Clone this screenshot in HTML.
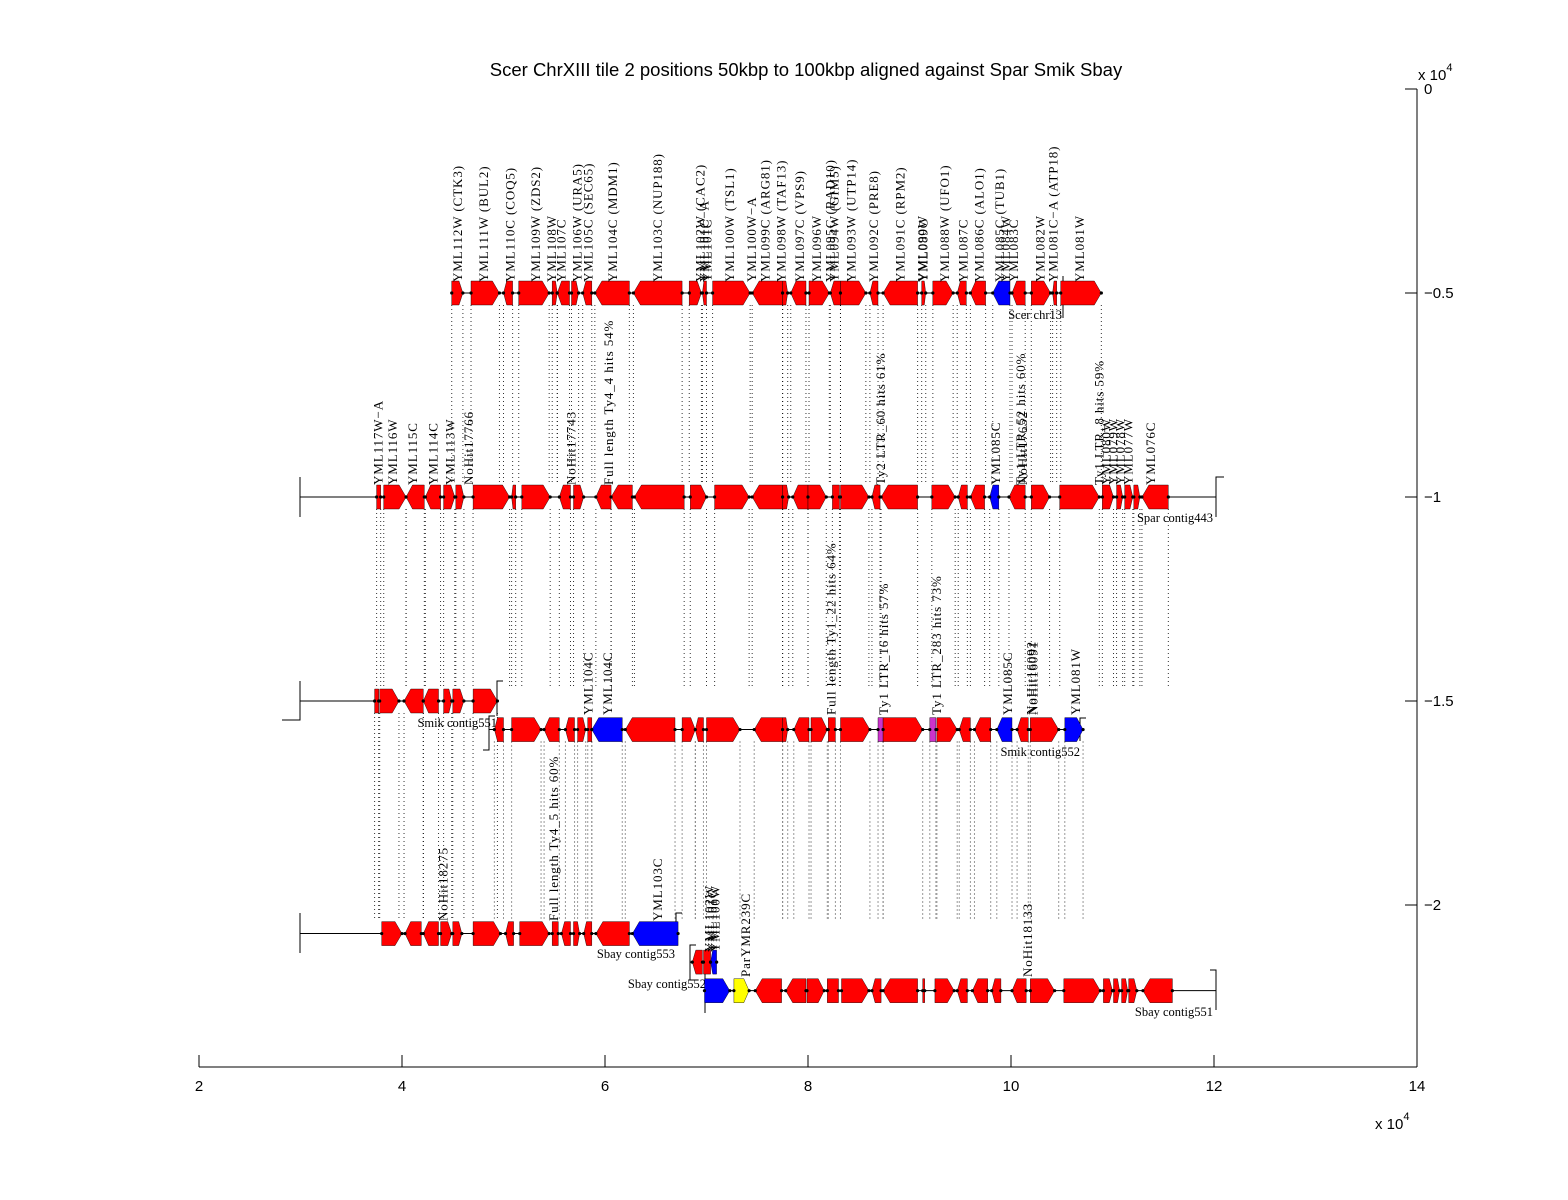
<!DOCTYPE html>
<html><head><meta charset="utf-8"><title>Scer ChrXIII tile 2 alignment</title>
<style>
html,body{margin:0;padding:0;background:#fff;}
svg{display:block;}
</style></head>
<body>
<svg id="chart" width="1568" height="1200" viewBox="0 0 1568 1200" xmlns="http://www.w3.org/2000/svg">
<rect x="0" y="0" width="1568" height="1200" fill="#fff"/>
<text x="806" y="76" font-family="Liberation Sans, sans-serif" font-size="18.5" text-anchor="middle">Scer ChrXIII tile 2 positions 50kbp to 100kbp aligned against Spar Smik Sbay</text>
<g id="dots"></g>
<g id="tracks"></g>
<g id="genes"></g>
<g id="labels"></g>
<g id="axes"></g>
</svg>
<script>
// Data in units of 10^4 bp (x) and 10^4 (y)
const xTicks = [2,4,6,8,10,12,14];
const yTicks = [0,-0.5,-1,-1.5,-2];
const yTickLabels = ["0","\u22120.5","\u22121","\u22121.5","\u22122"];
const rowY = [-0.5,-1.0,-1.5,-1.57,-2.07,-2.14,-2.21];
const scerStart = [4.49,4.68,5.00,5.15,5.48,5.53,5.67,5.78,5.90,6.28,6.83,6.96,7.06,7.45,7.75,7.83,8.01,8.22,8.32,8.61,8.74,9.12,9.23,9.47,9.60,9.82,10.01,10.20,10.41,10.49];
const scerEnd   = [4.60,4.96,5.09,5.45,5.53,5.65,5.74,5.87,6.24,6.76,6.95,7.00,7.43,7.75,7.80,7.98,8.21,8.32,8.57,8.69,9.08,9.16,9.43,9.56,9.75,9.99,10.14,10.39,10.45,10.89];
const scerDir   = [1,1,-1,1,1,-1,1,-1,-1,-1,1,-1,1,-1,1,-1,1,-1,1,-1,-1,1,1,-1,-1,-1,-1,1,-1,1];
const scerColor = "rrrrrrrrrrrrrrrrrrrrrrrrrbrrrr";
const sparStart = [3.75,3.82,4.04,4.23,4.41,4.53,4.70,5.08,5.18,5.55,5.69,5.91,6.06,6.29,6.84,7.08,7.45,7.75,7.85,8.00,8.24,8.32,8.63,8.72,9.22,9.48,9.60,9.79,9.98,10.20,10.48,10.90,11.04,11.12,11.21,11.29];
const sparEnd   = [3.79,4.04,4.22,4.38,4.52,4.61,5.06,5.12,5.46,5.66,5.79,6.06,6.27,6.78,7.00,7.42,7.75,7.81,8.00,8.18,8.31,8.60,8.71,9.08,9.45,9.57,9.74,9.88,10.14,10.38,10.87,11.01,11.10,11.20,11.27,11.55];
const sparDir   = [0,1,-1,-1,1,1,1,-1,1,-1,1,-1,-1,-1,1,1,-1,1,-1,1,0,1,-1,-1,1,-1,-1,-1,-1,1,1,1,1,1,1,-1];
const sparColor = "rrrrrrrrrrrrrrrrrrrrrrrrrrrbrrrrrrrr";
const smik1Start = [3.73,3.78,4.02,4.21,4.41,4.50,4.70];
const smik1End   = [3.77,3.97,4.21,4.36,4.49,4.61,4.94];
const smik1Dir   = [0,1,-1,-1,1,1,1];
const smik1Color = "rrrrrrr";
const smik2Start = [4.91,5.08,5.40,5.61,5.73,5.83,5.87,6.20,6.76,6.89,7.00,7.47,7.75,7.86,8.03,8.20,8.32,8.69,8.74,9.20,9.27,9.49,9.64,9.86,10.06,10.19,10.53];
const smik2End   = [5.00,5.37,5.55,5.70,5.81,5.87,6.17,6.69,6.89,6.97,7.33,7.75,7.80,8.01,8.19,8.27,8.61,8.74,9.13,9.26,9.47,9.60,9.80,10.01,10.17,10.47,10.71];
const smik2Dir   = [-1,1,-1,-1,1,0,-1,-1,1,-1,1,-1,1,-1,1,0,1,0,1,0,1,-1,-1,-1,-1,1,1];
const smik2Color = "rrrrrrbrrrrrrrrrrmrmrrrbrrb";
const sbay1Start = [3.80,4.03,4.21,4.38,4.50,4.70,5.02,5.16,5.48,5.57,5.69,5.79,5.91,6.27];
const sbay1End   = [4.00,4.19,4.36,4.49,4.59,4.97,5.10,5.45,5.54,5.66,5.75,5.87,6.24,6.72];
const sbay1Dir   = [1,-1,-1,1,1,1,-1,1,0,-1,1,-1,-1,-1];
const sbay1Color = "rrrrrrrrrrrrrb";
const sbay2Start = [6.86,6.97,7.04];
const sbay2End   = [6.96,7.04,7.10];
const sbay2Dir   = [-1,0,-1];
const sbay2Color = "rrb";
const sbay3Start = [6.98,7.27,7.48,7.78,7.99,8.19,8.33,8.63,8.74,9.13,9.25,9.47,9.62,9.81,10.01,10.19,10.52,10.91,11.01,11.09,11.16,11.30];
const sbay3End   = [7.23,7.42,7.74,7.98,8.16,8.30,8.60,8.72,9.08,9.15,9.44,9.57,9.77,9.90,10.15,10.43,10.88,11.00,11.07,11.15,11.24,11.59];
const sbay3Dir   = [1,1,-1,-1,1,0,1,-1,-1,0,1,-1,-1,-1,-1,1,1,1,1,1,1,-1];
const sbay3Color = "byrrrrrrrrrrrrrrrrrrrr";
const scerLabelText = ["YML112W (CTK3)","YML111W (BUL2)","YML110C (COQ5)","YML109W (ZDS2)","YML108W","YML107C","YML106W (URA5)","YML105C (SEC65)","YML104C (MDM1)","YML103C (NUP188)","YML102W (CAC2)","YML101C\u2212A","YML101C","YML100W (TSL1)","YML100W\u2212A","YML099C (ARG81)","YML098W (TAF13)","YML097C (VPS9)","YML096W","YML095C (RAD10)","YML094W (GIM5)","YML093W (UTP14)","YML092C (PRE8)","YML091C (RPM2)","YML090W","YML089C","YML088W (UFO1)","YML087C","YML086C (ALO1)","YML085C (TUB1)","YML084W","YML083C","YML082W","YML081C\u2212A (ATP18)","YML081W"];
const scerLabelX = [4.54,4.80,5.06,5.31,5.47,5.56,5.72,5.83,6.07,6.51,6.93,6.97,7.00,7.22,7.44,7.57,7.73,7.91,8.08,8.21,8.25,8.42,8.64,8.90,9.12,9.13,9.34,9.52,9.68,9.88,9.94,10.02,10.28,10.41,10.67];
const sparLabelText = ["YML117W\u2212A","YML116W","YML115C","YML114C","YML113W","NoHit17766","NoHit17743","Full length Ty4_4 hits 54%","Ty2 LTR_60 hits 61%","YML085C","Ty1 LTR_52 hits 60%","NoHit17652","Ty1 LTR_8 hits 59%","YML080W","YML079W","YML078W","YML077W","YML076C"];
const sparLabelX = [3.76,3.90,4.10,4.30,4.47,4.65,5.66,6.03,8.71,9.84,10.09,10.11,10.86,10.93,11.00,11.07,11.15,11.37];
const smikLabelText = ["YML104C","YML104C","Full length Ty1_22 hits 64%","Ty1 LTR_16 hits 57%","Ty1 LTR_283 hits 73%","YML085C","NoHit16092","NoHit16091","YML081W"];
const smikLabelX = [5.83,6.02,8.22,8.74,9.26,9.96,10.19,10.21,10.63];
const sbay1LabelText = ["NoHit18275","Full length Ty4_5 hits 60%","YML103C"];
const sbay1LabelX = [4.40,5.49,6.51];
const sbay2LabelText = ["YML102W","YML101C","YML100W"];
const sbay2LabelX = [7.02,7.05,7.08];
const sbay3LabelText = ["ParYMR239C","NoHit18133"];
const sbay3LabelX = [7.38,10.16];

const NS = "http://www.w3.org/2000/svg";
const X = v => 199 + (v - 2) * 101.5;
const Y = v => 89 - v * 408;
const COL = {r:"#ff0000", b:"#0000ff", m:"#cc33cc", y:"#ffff00"};
function mk(tag, attrs, parent){
  const e = document.createElementNS(NS, tag);
  for (const k in attrs) e.setAttribute(k, attrs[k]);
  parent.appendChild(e);
  return e;
}
const gDots = document.getElementById('dots');
const gTracks = document.getElementById('tracks');
const gGenes = document.getElementById('genes');
const gLabels = document.getElementById('labels');
const gAxes = document.getElementById('axes');

const trackStart = [4.49,3.0,3.0,4.86,3.0,6.84,6.98];
const trackEnd = [10.89,12.02,4.94,10.68,6.72,7.10,12.02];
for (let i = 0; i < rowY.length; i++) {
  const l = mk('line', {x1:X(trackStart[i]), x2:X(trackEnd[i]), y1:Y(rowY[i]), y2:Y(rowY[i]), stroke:'#000', 'stroke-width':1}, gTracks);
  
  
}
function path(d, name){
  const p = mk('path', {d:d, stroke:'#000', fill:'none', 'stroke-width':1}, gTracks);
  
  
}
path('M1063,276 V318', 'scer-end-bracket');
path('M300,477 V517', 'spar-start-bracket');
path('M1224,477 H1216 V517', 'spar-end-bracket');
path('M300,681 V720 H282', 'smik551-start-bracket');
path('M503,681 H497 V716', 'smik551-end-bracket');
path('M495,716 H489 V750 H483', 'smik552-start-bracket');
path('M1086,718 H1080 V741', 'smik552-end-bracket');
path('M300,913 V953', 'sbay553-start-bracket');
path('M682,913 H676 V933', 'sbay553-end-bracket');
path('M696,945 H690 V980 H696', 'sbay552-start-bracket');
path('M705,963 V1013', 'sbay551-start-bracket');
path('M1210,970 H1216 V1010', 'sbay551-end-bracket');

function contigLabel(x, y, txt, name){
  const t = mk('text', {x:x, y:y, 'font-family':'Liberation Serif, serif', 'font-size':12.5, 'text-anchor':'end'}, gTracks);
  t.textContent = txt;
  
  
}
contigLabel(1062, 319, 'Scer chr13', 'scer-contig-label');
contigLabel(1213, 522, 'Spar contig443', 'spar-contig-label');
contigLabel(497, 727, 'Smik contig551', 'smik551-contig-label');
contigLabel(1080, 756, 'Smik contig552', 'smik552-contig-label');
contigLabel(675, 958, 'Sbay contig553', 'sbay553-contig-label');
contigLabel(706, 988, 'Sbay contig552', 'sbay552-contig-label');
contigLabel(1213, 1016, 'Sbay contig551', 'sbay551-contig-label');

const rows = [
  [scerStart, scerEnd, scerDir, scerColor],
  [sparStart, sparEnd, sparDir, sparColor],
  [smik1Start, smik1End, smik1Dir, smik1Color],
  [smik2Start, smik2End, smik2Dir, smik2Color],
  [sbay1Start, sbay1End, sbay1Dir, sbay1Color],
  [sbay2Start, sbay2End, sbay2Dir, sbay2Color],
  [sbay3Start, sbay3End, sbay3Dir, sbay3Color]
];
const dotTo = [485, 689, 921, 921, 0, 0, 0];
const dotFrom = [0, 0, 0, 0, 0, 0, 0];
for (let r = 0; r < rows.length; r++) {
  const [S, E, D, C] = rows[r];
  const yc = Y(rowY[r]);
  for (let i = 0; i < S.length; i++) {
    const x0 = X(S[i]), x1 = X(E[i]);
    const w = x1 - x0, h = 12;
    const tip = Math.min(w * 0.35, 7);
    let pts;
    if (D[i] === 1) pts = [[x0,yc-h],[x1-tip,yc-h],[x1,yc],[x1-tip,yc+h],[x0,yc+h]];
    else if (D[i] === -1) pts = [[x1,yc-h],[x0+tip,yc-h],[x0,yc],[x0+tip,yc+h],[x1,yc+h]];
    else pts = [[x0,yc-h],[x1,yc-h],[x1,yc+h],[x0,yc+h]];
    const poly = mk('polygon', {points: pts.map(p => p[0].toFixed(1)+','+p[1].toFixed(1)).join(' '), fill: COL[C[i]], stroke:'#000', 'stroke-width':0.4}, gGenes);
    
    
    for (const xx of [x0, x1]) {
      const c = mk('circle', {cx:xx, cy:yc, r:1.6, fill:'#000'}, gGenes);
      
      
      if (dotTo[r]) {
        const dl = mk('line', {x1:xx, x2:xx, y1:yc + h, y2:dotTo[r], stroke:'#000', 'stroke-width':1, 'stroke-dasharray':'1 3', opacity:0.8}, gDots);
        
        
      }
    }
  }
}
function labels(texts, xs, ybottom){
  for (let i = 0; i < texts.length; i++) {
    const x = X(xs[i]) + 5;
    const t = mk('text', {x:0, y:0, transform:'translate('+x.toFixed(1)+','+ybottom+') rotate(-90)', 'font-family':'Liberation Serif, serif', 'font-size':13, 'letter-spacing':'0.9'}, gLabels);
    t.textContent = texts[i];
    
    
  }
}
labels(scerLabelText, scerLabelX, 282);
labels(sparLabelText, sparLabelX, 485);
labels(smikLabelText, smikLabelX, 715);
labels(sbay1LabelText, sbay1LabelX, 921);
labels(sbay2LabelText, sbay2LabelX, 952);
labels(sbay3LabelText, sbay3LabelX, 977);

const xl = mk('line', {x1:199, x2:1417, y1:1067, y2:1067, stroke:'#000', 'stroke-width':1}, gAxes);


const yl = mk('line', {x1:1417, x2:1417, y1:89, y2:1067, stroke:'#000', 'stroke-width':1}, gAxes);


for (const v of xTicks) {
  const tk = mk('line', {x1:X(v), x2:X(v), y1:1055, y2:1067, stroke:'#000', 'stroke-width':1}, gAxes);
  
  
  const t = mk('text', {x:X(v), y:1091, 'font-family':'Liberation Sans, sans-serif', 'font-size':15, 'text-anchor':'middle'}, gAxes);
  t.textContent = String(v);
  
  
}
for (let i = 0; i < yTicks.length; i++) {
  const yy = Y(yTicks[i]);
  const tk = mk('line', {x1:1405, x2:1417, y1:yy, y2:yy, stroke:'#000', 'stroke-width':1}, gAxes);
  
  
  const t = mk('text', {x:1424, y:yy + 5, 'font-family':'Liberation Sans, sans-serif', 'font-size':15}, gAxes);
  t.textContent = yTickLabels[i];
  
  
}
function expo(x, y, name){
  const t = mk('text', {x:x, y:y, 'font-family':'Liberation Sans, sans-serif', 'font-size':15}, gAxes);
  t.textContent = 'x 10';
  const s = mk('tspan', {dy:-9, 'font-size':11}, t);
  s.textContent = '4';
  
  
}
expo(1418, 80, 'y-axis-exponent');
expo(1375, 1129, 'x-axis-exponent');
</script>
</body></html>
